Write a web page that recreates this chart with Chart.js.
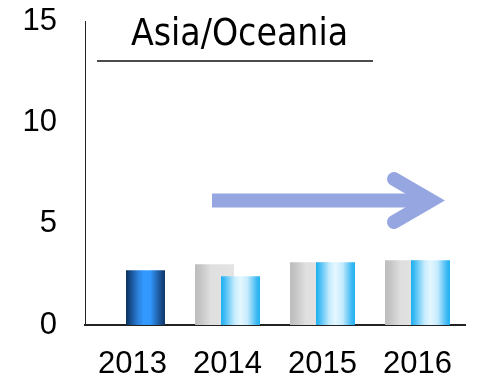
<!DOCTYPE html>
<html>
<head>
<meta charset="utf-8">
<script src="https://cdn.jsdelivr.net/npm/chart.js@4"></script>
<style>
  html, body { margin: 0; padding: 0; background: #fff; }
  #wrap { width: 477px; height: 379px; }
</style>
</head>
<body>
<div id="wrap"><canvas id="chart" width="477" height="379"></canvas></div>
<script>
// chart data
const years = ['2013', '2014', '2015', '2016'];
const previousValues = [null, 3.0, 3.1, 3.2];
const currentValues = [2.7, 2.4, 3.1, 3.2];
const yTicks = [0, 5, 10, 15];
const chartTitle = 'Asia/Oceania';

// gradient stops for the cylinder-looking bars
const grayStops = [[0, '#bcbcbc'], [0.15, '#c6c6c6'], [0.4, '#dfdfdf'], [1, '#e4e4e4']];
const lightBlueStops = [[0, '#1cb0f2'], [0.08, '#3cbaf4'], [0.35, '#c8ecfd'], [0.5, '#e4f7ff'],
                        [0.68, '#c6ebfd'], [0.9, '#46bcf4'], [1, '#1cb0f2']];
const darkBlueStops = [[0, '#0b2f5e'], [0.3, '#2a7fd8'], [0.45, '#3399ff'], [0.62, '#3399ff'],
                       [0.85, '#1d5aa0'], [1, '#0c3463']];

function stopsFor(datasetIndex, dataIndex) {
    if (datasetIndex === 0) return grayStops;
    return dataIndex === 0 ? darkBlueStops : lightBlueStops;
}

// draws datasets left to right so the blue bar sits on top of the gray one
const barPainter = {
    id: 'barPainter',
    beforeDatasetsDraw(chart) {
        const ctx = chart.ctx;
        chart.getSortedVisibleDatasetMetas().forEach(meta => {
            meta.data.forEach((bar, i) => {
                if (!bar || bar.skip) return;
                const left = bar.x - bar.width / 2;
                const g = ctx.createLinearGradient(left, 0, left + bar.width, 0);
                stopsFor(meta.index, i).forEach(([p, c]) => g.addColorStop(p, c));
                bar.options = Object.assign({}, bar.options, { backgroundColor: g });
            });
            chart._drawDataset(meta);
        });
        return false;
    }
};

// title with underline and the trend arrow
const decorations = {
    id: 'decorations',
    afterDraw(chart) {
        const ctx = chart.ctx;
        ctx.save();
        ctx.fillStyle = '#000';
        ctx.font = '37px "DejaVu Sans Condensed", "DejaVu Sans", sans-serif';
        ctx.textAlign = 'center';
        ctx.textBaseline = 'alphabetic';
        ctx.fillText(chartTitle, 239.5, 45);

        ctx.strokeStyle = '#111';
        ctx.lineWidth = 1.5;
        ctx.beginPath();
        ctx.moveTo(97, 61);
        ctx.lineTo(373, 61);
        ctx.stroke();

        // arrow
        ctx.strokeStyle = '#96a6e0';
        ctx.lineWidth = 14;
        ctx.lineCap = 'butt';
        ctx.beginPath();
        ctx.moveTo(212, 200.5);
        ctx.lineTo(428, 200.5);
        ctx.stroke();
        ctx.lineCap = 'round';
        ctx.lineJoin = 'miter';
        ctx.beginPath();
        ctx.moveTo(394, 179);
        ctx.lineTo(431, 200.5);
        ctx.lineTo(394, 222);
        ctx.stroke();
        ctx.restore();
    }
};

const tickFont = { family: '"Liberation Sans", Arial, sans-serif', size: 31 };

new Chart(document.getElementById('chart'), {
    type: 'bar',
    data: {
        labels: years,
        datasets: [{
            label: 'previous',
            data: previousValues,
            backgroundColor: '#d0d0d0',
            borderWidth: 0,
            categoryPercentage: 0.547,
            barPercentage: 1.5
        }, {
            label: 'current',
            data: currentValues,
            backgroundColor: '#3cbaf4',
            borderWidth: 0,
            categoryPercentage: 0.547,
            barPercentage: 1.5
        }]
    },
    options: {
        responsive: false,
        animation: false,
        layout: { padding: { top: 21, right: 12, left: 0, bottom: 0 } },
        plugins: {
            legend: { display: false },
            tooltip: { enabled: false },
            title: { display: false }
        },
        scales: {
            x: {
                grid: { display: false, drawTicks: false },
                border: { display: true, color: '#222', width: 2 },
                ticks: { color: '#000', font: tickFont, padding: 21, maxRotation: 0 },
                afterFit: scale => { scale.height = 54; scale.paddingLeft = 0; scale.paddingRight = 0; }
            },
            y: {
                min: yTicks[0],
                max: yTicks[yTicks.length - 1],
                grid: { display: false, drawTicks: false },
                border: { display: true, color: '#222', width: 1 },
                ticks: { color: '#000', font: tickFont, padding: 28, stepSize: yTicks[1] - yTicks[0] },
                afterFit: scale => { scale.width = 85; scale.paddingTop = 0; scale.paddingBottom = 0; }
            }
        }
    },
    plugins: [barPainter, decorations]
});
</script>
</body>
</html>
